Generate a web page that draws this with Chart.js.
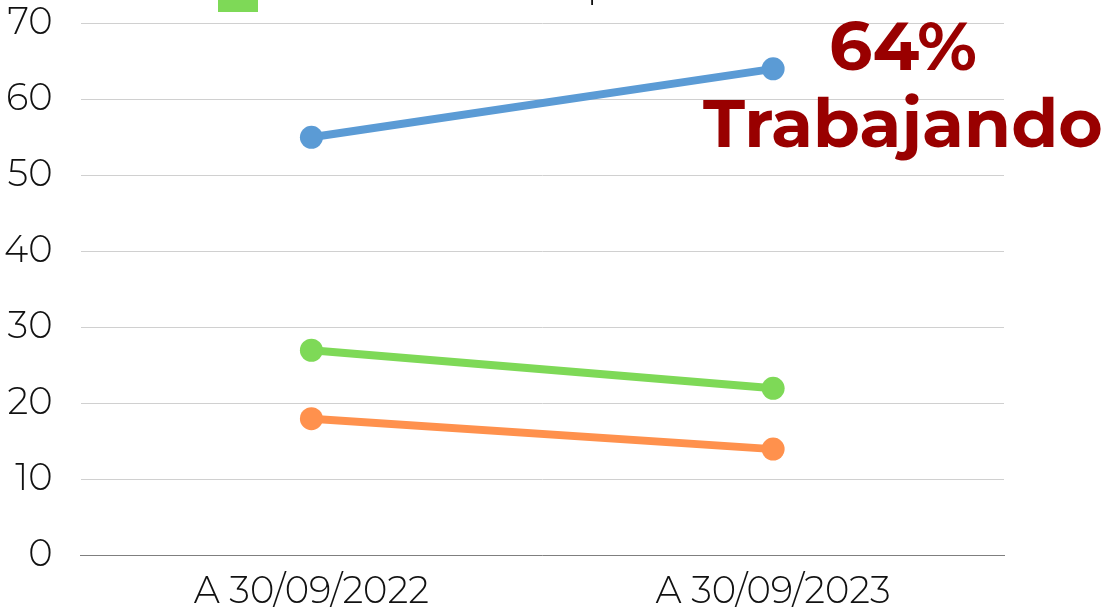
<!DOCTYPE html>
<html>
<head>
<meta charset="utf-8">
<script src="https://cdn.jsdelivr.net/npm/chart.js@4.4.0/dist/chart.umd.min.js"></script>
<style>
  html, body { margin: 0; padding: 0; background: #fff; }
  #wrap { position: relative; width: 1107px; height: 612px; overflow: hidden; }
  #c { position: absolute; left: -32px; top: -27px; }
</style>
</head>
<body>
<div id="wrap"><canvas id="c" width="1139" height="655"></canvas></div>
<script>
// categories and series
var categories = ['A 30/09/2022', 'A 30/09/2023'];
var trabajando = [55, 64];
var buscando   = [27, 22];
var otros      = [18, 14];

var seriesLabels = ['Trabajando', 'Buscando un empleo', 'Desempleados'];
var seriesColors = ['#5b9bd5', '#7ed957', '#ff914d'];

var FONT = "'Montserrat', 'Lato', 'Open Sans', sans-serif";
// canvas is shifted up/left inside the page (see #c)
var DX = 32, DY = 27;

function line(label, data, color) {
  return {
    label: label,
    data: data,
    borderColor: color,
    backgroundColor: color,
    borderWidth: 8,
    pointRadius: 11.5,
    pointHoverRadius: 11.5,
    pointBorderWidth: 0,
    tension: 0,
    fill: false
  };
}

// the legend is cut off at the top of the picture; only the bottom of the
// green swatch and a descender of its label show
var cutLegend = {
  id: 'cutLegend',
  afterDraw: function (chart) {
    var ctx = chart.ctx;
    ctx.save();
    ctx.fillStyle = seriesColors[1];
    ctx.fillRect(218 + DX, DY - 30, 40, 42);
    ctx.fillStyle = '#111';
    ctx.font = '300 37px ' + FONT;
    ctx.textBaseline = 'alphabetic';
    ctx.fillText(seriesLabels[1], 272 + DX, DY - 2);
    ctx.restore();
  }
};

// big red callout next to the last blue point
var callout = {
  id: 'callout',
  afterDraw: function (chart) {
    var ctx = chart.ctx;
    var area = chart.chartArea;
    var cx = area.right - 101;
    ctx.save();
    ctx.fillStyle = '#990000';
    ctx.font = 'bold 68px ' + FONT;
    ctx.textAlign = 'center';
    ctx.textBaseline = 'middle';
    ctx.fillText(trabajando[1] + '%', cx, DY + 50);
    ctx.fillText(seriesLabels[0], cx, DY + 127);
    ctx.restore();
  }
};

new Chart(document.getElementById('c'), {
  type: 'line',
  data: {
    labels: categories,
    datasets: [
      line(seriesLabels[0], trabajando, seriesColors[0]),
      line(seriesLabels[1], buscando, seriesColors[1]),
      line(seriesLabels[2], otros, seriesColors[2])
    ]
  },
  options: {
    responsive: false,
    animation: false,
    layout: { padding: { top: -18, right: 103, left: 8, bottom: 0 } },
    plugins: {
      legend: { display: false },
      tooltip: { enabled: false }
    },
    scales: {
      x: {
        offset: true,
        grid: { display: false, drawTicks: false },
        border: { display: true, color: '#7f7f7f', width: 1 },
        ticks: { color: '#111', font: { family: FONT, size: 37, weight: '300' }, padding: 14 }
      },
      y: {
        min: 0,
        max: 70,
        grid: { color: '#d0d0d0', lineWidth: 1, drawTicks: false },
        border: { display: false },
        ticks: { stepSize: 10, color: '#111', font: { family: FONT, size: 37, weight: '300' }, padding: 28 }
      }
    }
  },
  plugins: [cutLegend, callout]
});
</script>
</body>
</html>
